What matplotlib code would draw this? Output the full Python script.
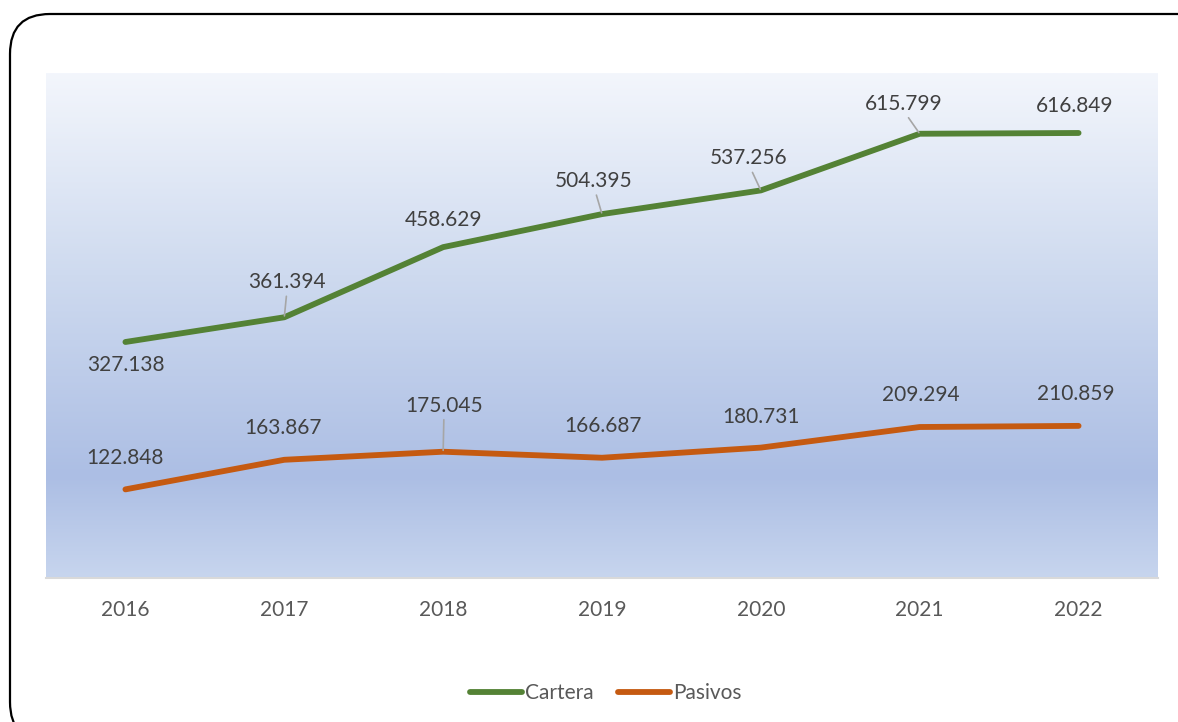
import numpy as np
import matplotlib
matplotlib.use("Agg")
import matplotlib.pyplot as plt
from matplotlib.patches import FancyBboxPatch
from matplotlib.colors import LinearSegmentedColormap

plt.rcParams["font.family"] = ["Lato", "DejaVu Sans"]

years = ["2016", "2017", "2018", "2019", "2020", "2021", "2022"]
cartera = [327.138, 361.394, 458.629, 504.395, 537.256, 615.799, 616.849]
pasivos = [122.848, 163.867, 175.045, 166.687, 180.731, 209.294, 210.859]

# label offsets (pixels) relative to each point, and whether to draw a leader line
cartera_off = [(0, -23), (3, 35), (0, 27), (-8, 33), (-12, 32), (-16, 30), (-4, 27)]
cartera_lead = [False, True, False, True, True, True, False]
pasivos_off = [(0, 31), (-1, 32), (1, 46), (1, 32), (0, 31), (1, 32), (-3, 32)]
pasivos_lead = [False, False, True, False, False, False, False]

GREEN = "#548235"
ORANGE = "#c55a11"

fig = plt.figure(figsize=(11.78, 7.22), dpi=100)
ax = fig.add_axes([46 / 1178, 1 - 578 / 722, 1112 / 1178, 505 / 722])

x = np.arange(len(years))
ax.set_xlim(-0.5, len(years) - 0.5)
ax.set_ylim(0, 700)

# gradient plot area background
grad = LinearSegmentedColormap.from_list("bg", [
    (0.0, (243 / 255, 246 / 255, 252 / 255)),
    (0.4, (206 / 255, 218 / 255, 239 / 255)),
    (0.8, (172 / 255, 190 / 255, 228 / 255)),
    (1.0, (199 / 255, 213 / 255, 238 / 255)),
])
ax.imshow(np.linspace(0, 1, 256).reshape(-1, 1), cmap=grad, aspect="auto",
          extent=(-0.5, len(years) - 0.5, 0, 700), origin="upper", zorder=0)

ax.plot(x, cartera, color=GREEN, lw=4.2, solid_capstyle="round",
        solid_joinstyle="round", label="Cartera", zorder=3)
ax.plot(x, pasivos, color=ORANGE, lw=4.2, solid_capstyle="round",
        solid_joinstyle="round", label="Pasivos", zorder=3)


def put_labels(vals, offs, leads):
    for i, (v, (dx, dy), lead) in enumerate(zip(vals, offs, leads)):
        txt = f"{v:.3f}"
        ax.annotate(txt, (x[i], v), xytext=(dx, dy), textcoords="offset pixels",
                    ha="center", va="center", fontsize=15, color="#404040", zorder=4)
        if lead:
            # thin grey leader from label bottom to the point
            ax.annotate("", (x[i], v), xytext=(dx * 0.7, dy - 14 if dy > 0 else dy + 14),
                        textcoords="offset pixels",
                        arrowprops=dict(arrowstyle="-", color="#a6a6a6", lw=1.2,
                                        shrinkA=0, shrinkB=1), zorder=4)


put_labels(cartera, cartera_off, cartera_lead)
put_labels(pasivos, pasivos_off, pasivos_lead)

ax.set_xticks(x)
ax.set_xticklabels(years, fontsize=15, color="#595959")
ax.tick_params(axis="x", length=0, pad=16)
ax.set_yticks([])
for s in ["top", "right", "left"]:
    ax.spines[s].set_visible(False)
ax.spines["bottom"].set_color("#d9d9d9")
ax.spines["bottom"].set_linewidth(1.5)

leg = fig.legend(loc="lower center", bbox_to_anchor=(0.514, 0.0), ncol=2, frameon=False,
                 fontsize=15, handlelength=2.5, handletextpad=0.15, columnspacing=1.15,
                 labelcolor="#595959")
for h in leg.get_lines():
    h.set_linewidth(4.2)
    h.set_solid_capstyle("round")

# rounded chart border, running off the right and bottom edges
border = FancyBboxPatch((0.10, -0.2), 12.2, 7.28, boxstyle="round,pad=0,rounding_size=0.4",
                        transform=fig.dpi_scale_trans, fill=False, ec="black", lw=1.6,
                        clip_on=False)
fig.patches.append(border)

fig.savefig("out.png", dpi=100)
